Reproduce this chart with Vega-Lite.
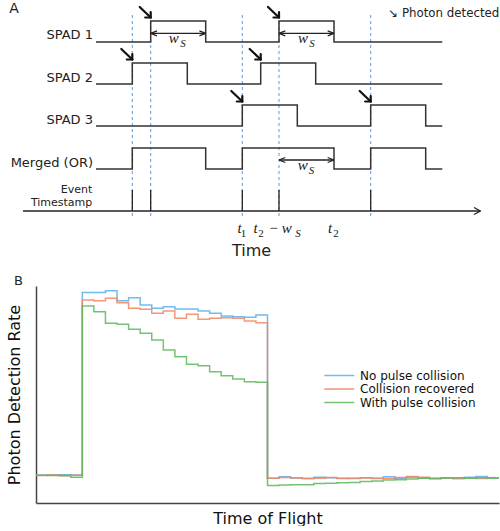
{
"$schema": "https://vega.github.io/schema/vega-lite/v6.json",
"padding": {"left": 6, "top": 0, "right": 0, "bottom": 0},
"bounds": "flush",
"spacing": 26,
"config": {"view": {"stroke": null}, "font": "DejaVu Sans"},
"datasets": {
"sig": [
{"sig":"SPAD 1","t":60,"v":218},{"sig":"SPAD 1","t":114.7,"v":239},{"sig":"SPAD 1","t":169.7,"v":218},{"sig":"SPAD 1","t":243,"v":239},{"sig":"SPAD 1","t":298,"v":218},{"sig":"SPAD 1","t":406.3,"v":218},
{"sig":"SPAD 2","t":60,"v":176},{"sig":"SPAD 2","t":96.3,"v":197},{"sig":"SPAD 2","t":151.3,"v":176},{"sig":"SPAD 2","t":224.7,"v":197},{"sig":"SPAD 2","t":279.7,"v":176},{"sig":"SPAD 2","t":406.3,"v":176},
{"sig":"SPAD 3","t":60,"v":134},{"sig":"SPAD 3","t":206.3,"v":155},{"sig":"SPAD 3","t":261.3,"v":134},{"sig":"SPAD 3","t":334.7,"v":155},{"sig":"SPAD 3","t":389.7,"v":134},{"sig":"SPAD 3","t":406.3,"v":134},
{"sig":"Merged","t":60,"v":91},{"sig":"Merged","t":96.3,"v":112},{"sig":"Merged","t":169.7,"v":91},{"sig":"Merged","t":206.3,"v":112},{"sig":"Merged","t":298,"v":91},{"sig":"Merged","t":334.7,"v":112},{"sig":"Merged","t":389.7,"v":91},{"sig":"Merged","t":406.3,"v":91}
],
"dash": [
{"t":96.3,"v":245,"v2":43},{"t":114.7,"v":245,"v2":43},{"t":206.3,"v":245,"v2":43},{"t":243,"v":245,"v2":43},{"t":334.7,"v":245,"v2":43}
],
"thin": [
{"t":-13,"v":49,"t2":444.5,"v2":49},
{"t":438,"v":52.5,"t2":444.5,"v2":49},{"t":438,"v":45.5,"t2":444.5,"v2":49},
{"t":96.3,"v":70,"t2":96.3,"v2":49},{"t":114.7,"v":70,"t2":114.7,"v2":49},{"t":206.3,"v":70,"t2":206.3,"v2":49},{"t":243,"v":70,"t2":243,"v2":49},{"t":334.7,"v":70,"t2":334.7,"v2":49},
{"t":114.7,"v":226.7,"t2":169.7,"v2":226.7},{"t":114.7,"v":226.7,"t2":121,"v2":229.2},{"t":114.7,"v":226.7,"t2":121,"v2":224.2},{"t":169.7,"v":226.7,"t2":163.4,"v2":229.2},{"t":169.7,"v":226.7,"t2":163.4,"v2":224.2},
{"t":243,"v":226.7,"t2":298,"v2":226.7},{"t":243,"v":226.7,"t2":249.3,"v2":229.2},{"t":243,"v":226.7,"t2":249.3,"v2":224.2},{"t":298,"v":226.7,"t2":291.7,"v2":229.2},{"t":298,"v":226.7,"t2":291.7,"v2":224.2},
{"t":243,"v":100,"t2":298,"v2":100},{"t":243,"v":100,"t2":249.3,"v2":102.5},{"t":243,"v":100,"t2":249.3,"v2":97.5},{"t":298,"v":100,"t2":291.7,"v2":102.5},{"t":298,"v":100,"t2":291.7,"v2":97.5}
],
"thick": [
{"t":103.7,"v":253,"t2":114.7,"v2":242.5},{"t":109.2,"v":242.5,"t2":114.7,"v2":242.5},{"t":114.7,"v":248,"t2":114.7,"v2":242.5},
{"t":232,"v":253,"t2":243,"v2":242.5},{"t":237.5,"v":242.5,"t2":243,"v2":242.5},{"t":243,"v":248,"t2":243,"v2":242.5},
{"t":85.3,"v":211,"t2":96.3,"v2":200.5},{"t":90.8,"v":200.5,"t2":96.3,"v2":200.5},{"t":96.3,"v":206,"t2":96.3,"v2":200.5},
{"t":213.7,"v":211,"t2":224.7,"v2":200.5},{"t":219.2,"v":200.5,"t2":224.7,"v2":200.5},{"t":224.7,"v":206,"t2":224.7,"v2":200.5},
{"t":195.3,"v":169,"t2":206.3,"v2":158.5},{"t":200.8,"v":158.5,"t2":206.3,"v2":158.5},{"t":206.3,"v":164,"t2":206.3,"v2":158.5},
{"t":323.7,"v":169,"t2":334.7,"v2":158.5},{"t":329.2,"v":158.5,"t2":334.7,"v2":158.5},{"t":334.7,"v":164,"t2":334.7,"v2":158.5}
],
"lab13": [
{"t":57,"v":220.7,"label":"SPAD 1"},{"t":57,"v":178.3,"label":"SPAD 2"},{"t":57,"v":136,"label":"SPAD 3"},{"t":57,"v":93.3,"label":"Merged (OR)"}
],
"lab12": [
{"t":56.3,"v":66.8,"label":"Event"},{"t":56.3,"v":54.3,"label":"Timestamp"}
],
"mathmain": [
{"t":137.7,"v":216.7,"label":"w"},{"t":267,"v":216.7,"label":"w"},{"t":266.7,"v":90,"label":"w"},
{"t":203.5,"v":27.3,"label":"t"},{"t":219.7,"v":27.3,"label":"t"},{"t":294.2,"v":27.3,"label":"t"},{"t":250.8,"v":27.3,"label":"w"}
],
"mathsub": [
{"t":147,"v":212.7,"label":"S"},{"t":276,"v":212.7,"label":"S"},{"t":275.5,"v":86,"label":"S"},{"t":262,"v":23.5,"label":"S"}
],
"mathnum": [
{"t":207.5,"v":23.5,"label":"1"},{"t":225,"v":23.5,"label":"2"},{"t":300,"v":23.5,"label":"2"}
],
"mathop": [
{"t":237.7,"v":27.3,"label":"−"}
],
"letterA": [{"t":-22,"v":246.7,"label":"A"}],
"timelab": [{"t":215.5,"v":4.3,"label":"Time"}],
"photon": [{"t":352.3,"v":242.7,"label":"↘ Photon detected"}],
"tof": [
{"s":"No pulse collision","b":0,"v":27.7},{"s":"No pulse collision","b":1,"v":27.9},{"s":"No pulse collision","b":2,"v":28.2},{"s":"No pulse collision","b":3,"v":28.0},{"s":"No pulse collision","b":4,"v":210.5},{"s":"No pulse collision","b":5,"v":210.5},{"s":"No pulse collision","b":6,"v":212.3},{"s":"No pulse collision","b":7,"v":202.3},{"s":"No pulse collision","b":8,"v":205.3},{"s":"No pulse collision","b":9,"v":198},{"s":"No pulse collision","b":10,"v":194.7},{"s":"No pulse collision","b":11,"v":196.3},{"s":"No pulse collision","b":12,"v":194},{"s":"No pulse collision","b":13,"v":194},{"s":"No pulse collision","b":14,"v":192},{"s":"No pulse collision","b":15,"v":189.7},{"s":"No pulse collision","b":16,"v":187},{"s":"No pulse collision","b":17,"v":186.3},{"s":"No pulse collision","b":18,"v":185.7},{"s":"No pulse collision","b":19,"v":188},{"s":"No pulse collision","b":20,"v":24.7},{"s":"No pulse collision","b":21,"v":26.3},{"s":"No pulse collision","b":22,"v":24.9},{"s":"No pulse collision","b":23,"v":24.4},{"s":"No pulse collision","b":24,"v":25.8},{"s":"No pulse collision","b":25,"v":25.2},{"s":"No pulse collision","b":26,"v":24.6},{"s":"No pulse collision","b":27,"v":24.7},{"s":"No pulse collision","b":28,"v":25.2},{"s":"No pulse collision","b":29,"v":24.4},{"s":"No pulse collision","b":30,"v":26.2},{"s":"No pulse collision","b":31,"v":24.7},{"s":"No pulse collision","b":32,"v":25.8},{"s":"No pulse collision","b":33,"v":24.9},{"s":"No pulse collision","b":34,"v":24.6},{"s":"No pulse collision","b":35,"v":25.1},{"s":"No pulse collision","b":36,"v":24.6},{"s":"No pulse collision","b":37,"v":25.7},{"s":"No pulse collision","b":38,"v":26.4},{"s":"No pulse collision","b":39,"v":25.0},{"s":"No pulse collision","b":40,"v":25.0},
{"s":"Collision recovered","b":0,"v":27.5},{"s":"Collision recovered","b":1,"v":27.9},{"s":"Collision recovered","b":2,"v":27.2},{"s":"Collision recovered","b":3,"v":27.7},{"s":"Collision recovered","b":4,"v":203},{"s":"Collision recovered","b":5,"v":202.3},{"s":"Collision recovered","b":6,"v":204.7},{"s":"Collision recovered","b":7,"v":200.3},{"s":"Collision recovered","b":8,"v":194.7},{"s":"Collision recovered","b":9,"v":193.7},{"s":"Collision recovered","b":10,"v":189.7},{"s":"Collision recovered","b":11,"v":192},{"s":"Collision recovered","b":12,"v":184.7},{"s":"Collision recovered","b":13,"v":188.7},{"s":"Collision recovered","b":14,"v":183.7},{"s":"Collision recovered","b":15,"v":184.7},{"s":"Collision recovered","b":16,"v":185.3},{"s":"Collision recovered","b":17,"v":184.7},{"s":"Collision recovered","b":18,"v":182},{"s":"Collision recovered","b":19,"v":180.3},{"s":"Collision recovered","b":20,"v":24.7},{"s":"Collision recovered","b":21,"v":25.5},{"s":"Collision recovered","b":22,"v":25.0},{"s":"Collision recovered","b":23,"v":24.5},{"s":"Collision recovered","b":24,"v":24.8},{"s":"Collision recovered","b":25,"v":25.5},{"s":"Collision recovered","b":26,"v":24.8},{"s":"Collision recovered","b":27,"v":24.5},{"s":"Collision recovered","b":28,"v":25.1},{"s":"Collision recovered","b":29,"v":24.8},{"s":"Collision recovered","b":30,"v":24.6},{"s":"Collision recovered","b":31,"v":25.6},{"s":"Collision recovered","b":32,"v":26.6},{"s":"Collision recovered","b":33,"v":25.8},{"s":"Collision recovered","b":34,"v":24.6},{"s":"Collision recovered","b":35,"v":24.9},{"s":"Collision recovered","b":36,"v":24.6},{"s":"Collision recovered","b":37,"v":25.1},{"s":"Collision recovered","b":38,"v":24.6},{"s":"Collision recovered","b":39,"v":25.2},{"s":"Collision recovered","b":40,"v":25.2},
{"s":"With pulse collision","b":0,"v":27.8},{"s":"With pulse collision","b":1,"v":27.4},{"s":"With pulse collision","b":2,"v":27.6},{"s":"With pulse collision","b":3,"v":25.7},{"s":"With pulse collision","b":4,"v":197},{"s":"With pulse collision","b":5,"v":191.3},{"s":"With pulse collision","b":6,"v":179.7},{"s":"With pulse collision","b":7,"v":178.7},{"s":"With pulse collision","b":8,"v":173.7},{"s":"With pulse collision","b":9,"v":169.7},{"s":"With pulse collision","b":10,"v":163},{"s":"With pulse collision","b":11,"v":153},{"s":"With pulse collision","b":12,"v":146.3},{"s":"With pulse collision","b":13,"v":138.7},{"s":"With pulse collision","b":14,"v":137.3},{"s":"With pulse collision","b":15,"v":131.3},{"s":"With pulse collision","b":16,"v":127.3},{"s":"With pulse collision","b":17,"v":124},{"s":"With pulse collision","b":18,"v":121.3},{"s":"With pulse collision","b":19,"v":120.7},{"s":"With pulse collision","b":20,"v":17.5},{"s":"With pulse collision","b":21,"v":18},{"s":"With pulse collision","b":22,"v":18.3},{"s":"With pulse collision","b":23,"v":18.3},{"s":"With pulse collision","b":24,"v":19.5},{"s":"With pulse collision","b":25,"v":19.7},{"s":"With pulse collision","b":26,"v":20.3},{"s":"With pulse collision","b":27,"v":20.5},{"s":"With pulse collision","b":28,"v":21.5},{"s":"With pulse collision","b":29,"v":22},{"s":"With pulse collision","b":30,"v":23},{"s":"With pulse collision","b":31,"v":23.2},{"s":"With pulse collision","b":32,"v":24},{"s":"With pulse collision","b":33,"v":24.7},{"s":"With pulse collision","b":34,"v":24.5},{"s":"With pulse collision","b":35,"v":25},{"s":"With pulse collision","b":36,"v":25.2},{"s":"With pulse collision","b":37,"v":24.8},{"s":"With pulse collision","b":38,"v":25.2},{"s":"With pulse collision","b":39,"v":25},{"s":"With pulse collision","b":40,"v":25}
]
},
"vconcat": [
{
"width": 463, "height": 260,
"encoding": {
"x": {"field": "t", "type": "quantitative", "scale": {"domain": [0, 463], "nice": false, "zero": false}, "axis": null},
"y": {"field": "v", "type": "quantitative", "scale": {"domain": [0, 260], "nice": false, "zero": false}, "axis": null}
},
"layer": [
{"data": {"name": "dash"}, "mark": {"type": "rule", "color": "#4a9fee", "strokeDash": [3, 3], "strokeWidth": 1}, "encoding": {"y2": {"field": "v2"}}},
{"data": {"name": "sig"}, "mark": {"type": "line", "interpolate": "step-after", "color": "#333333", "strokeWidth": 1.5}, "encoding": {"detail": {"field": "sig"}}},
{"data": {"name": "thin"}, "mark": {"type": "rule", "color": "#222222", "strokeWidth": 1.3}, "encoding": {"x2": {"field": "t2"}, "y2": {"field": "v2"}}},
{"data": {"name": "thick"}, "mark": {"type": "rule", "color": "#111111", "strokeWidth": 2.2, "strokeCap": "round"}, "encoding": {"x2": {"field": "t2"}, "y2": {"field": "v2"}}},
{"data": {"name": "lab13"}, "mark": {"type": "text", "align": "right", "baseline": "alphabetic", "fontSize": 13, "font": "DejaVu Sans", "color": "#222222"}, "encoding": {"text": {"field": "label"}}},
{"data": {"name": "lab12"}, "mark": {"type": "text", "align": "right", "baseline": "alphabetic", "fontSize": 11, "font": "DejaVu Sans", "color": "#222222"}, "encoding": {"text": {"field": "label"}}},
{"data": {"name": "mathmain"}, "mark": {"type": "text", "align": "center", "baseline": "alphabetic", "fontSize": 15, "font": "Liberation Serif", "fontStyle": "italic", "color": "#222222"}, "encoding": {"text": {"field": "label"}}},
{"data": {"name": "mathsub"}, "mark": {"type": "text", "align": "center", "baseline": "alphabetic", "fontSize": 11, "font": "Liberation Serif", "fontStyle": "italic", "color": "#222222"}, "encoding": {"text": {"field": "label"}}},
{"data": {"name": "mathnum"}, "mark": {"type": "text", "align": "center", "baseline": "alphabetic", "fontSize": 11, "font": "Liberation Serif", "color": "#222222"}, "encoding": {"text": {"field": "label"}}},
{"data": {"name": "mathop"}, "mark": {"type": "text", "align": "center", "baseline": "alphabetic", "fontSize": 15, "font": "Liberation Serif", "color": "#222222"}, "encoding": {"text": {"field": "label"}}},
{"data": {"name": "letterA"}, "mark": {"type": "text", "align": "center", "baseline": "alphabetic", "fontSize": 14, "font": "DejaVu Sans", "color": "#222222"}, "encoding": {"text": {"field": "label"}}},
{"data": {"name": "timelab"}, "mark": {"type": "text", "align": "center", "baseline": "alphabetic", "fontSize": 16, "font": "DejaVu Sans", "color": "#222222"}, "encoding": {"text": {"field": "label"}}},
{"data": {"name": "photon"}, "mark": {"type": "text", "align": "left", "baseline": "alphabetic", "fontSize": 11.8, "font": "DejaVu Sans", "color": "#222222"}, "encoding": {"text": {"field": "label"}}}
]
},
{
"width": 463, "height": 217,
"title": {"text": "B", "anchor": "start", "frame": "group", "dx": -22, "offset": -11.5, "baseline": "alphabetic", "fontSize": 13, "fontWeight": "normal", "font": "DejaVu Sans", "color": "#222222"},
"data": {"name": "tof"},
"mark": {"type": "line", "interpolate": "step-after", "strokeWidth": 1.5, "opacity": 0.85},
"encoding": {
"x": {"field": "b", "type": "quantitative", "scale": {"domain": [0, 40], "nice": false, "zero": false}, "axis": {"title": "Time of Flight", "labels": false, "ticks": false, "grid": false, "domainColor": "#444444", "domainWidth": 1.5, "titleFontSize": 16, "titleFontWeight": "normal", "titleFont": "DejaVu Sans", "titleColor": "#111111", "titlePadding": 7}},
"y": {"field": "v", "type": "quantitative", "scale": {"domain": [0, 217], "nice": false, "zero": false}, "axis": {"title": "Photon Detection Rate", "labels": false, "ticks": false, "grid": false, "domainColor": "#444444", "domainWidth": 1.5, "titleFontSize": 16, "titleFontWeight": "normal", "titleFont": "DejaVu Sans", "titleColor": "#111111", "titlePadding": 14}},
"color": {"field": "s", "type": "nominal", "scale": {"domain": ["No pulse collision", "Collision recovered", "With pulse collision"], "range": ["#5aaef0", "#f28560", "#5cb85c"]}, "legend": {"orient": "none", "legendX": 297.3, "legendY": 369.5, "title": null, "padding": 0, "symbolType": "M-3,0H3", "symbolSize": 100, "symbolStrokeWidth": 1.5, "labelFontSize": 12, "labelFont": "DejaVu Sans", "labelColor": "#111111", "labelOffset": 14.7, "rowPadding": 1.5}}
}
}
]
}
